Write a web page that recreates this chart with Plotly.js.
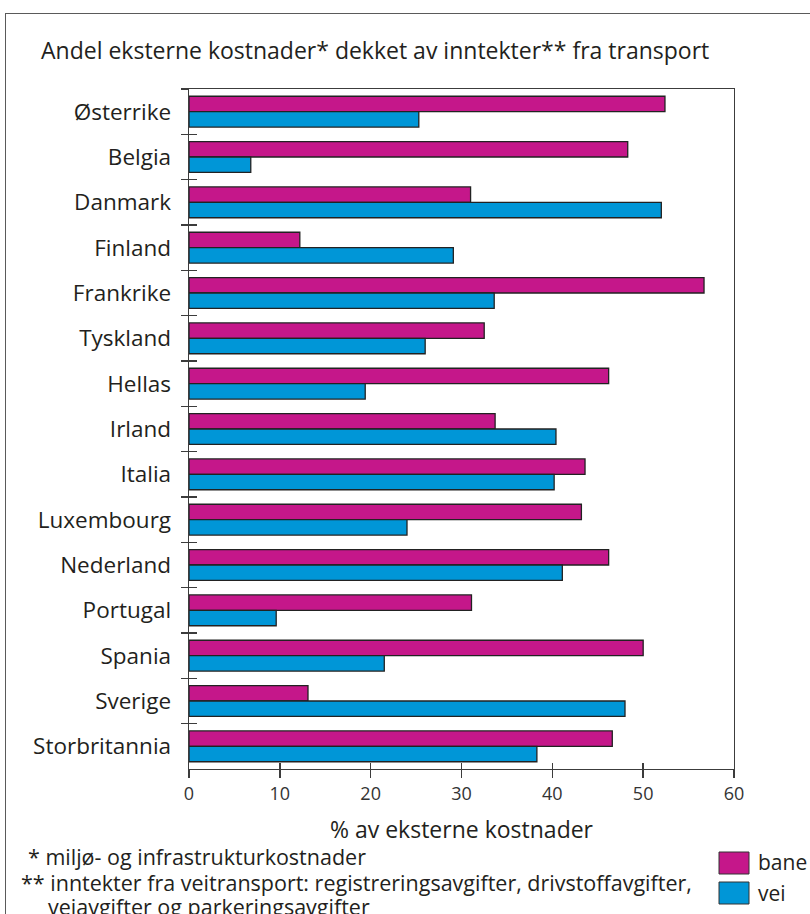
<!DOCTYPE html>
<html>
<head>
<meta charset="utf-8">
<script src="https://cdn.plot.ly/plotly-3.0.1.min.js"></script>
<style>
  html, body { margin: 0; padding: 0; background: #fff; overflow: hidden; }
  #chart { position: absolute; left: 0; top: 0; width: 810px; height: 914px; }
  #frame { position: absolute; left: 5px; top: 13px; width: 830px; height: 930px;
           border: 1.5px solid #5a5a5a; box-sizing: border-box; pointer-events: none; }
</style>
</head>
<body>
<div id="chart"></div>
<div id="frame"></div>
<script>
// Countries, top to bottom
const countries = [
  "Østerrike", "Belgia", "Danmark", "Finland", "Frankrike", "Tyskland", "Hellas",
  "Irland", "Italia", "Luxembourg", "Nederland", "Portugal", "Spania", "Sverige",
  "Storbritannia"
];
// Share of external costs covered by revenues (%), rail
const baneValues = [52.4, 48.3, 31.0, 12.2, 56.7, 32.5, 46.2, 33.7, 43.6, 43.2, 46.2, 31.1, 50.0, 13.1, 46.6];
// Share of external costs covered by revenues (%), road
const veiValues  = [25.3, 6.8, 52.0, 29.1, 33.6, 26.0, 19.4, 40.4, 40.2, 24.0, 41.1, 9.6, 21.5, 48.0, 38.3];

const seriesNames = ["bane", "vei"];
const xTickValues = [0, 10, 20, 30, 40, 50, 60];
const xTickLabels = ["0", "10", "20", "30", "40", "50", "60"];

const chartTitle = "Andel eksterne kostnader* dekket av inntekter** fra transport";
const xTitle = "% av eksterne kostnader";
const footnotes = [
  "* miljø- og infrastrukturkostnader",
  "** inntekter fra veitransport: registreringsavgifter, drivstoffavgifter,",
  "veiavgifter og parkeringsavgifter"
];

const colors = { bane: "#C5178A", vei: "#0096D7" };
const ink = "#231f20";
const axisInk = "#3c3c3c";
const FONT = "'Open Sans', 'Noto Sans', 'DejaVu Sans', sans-serif";

// Figure geometry (pixels) and helpers to turn page pixels into paper fractions
const W = 810, H = 914;
const M = { l: 189, r: 76, t: 89, b: 145 };
const PW = W - M.l - M.r, PH = H - M.t - M.b;
const px = x => (x - M.l) / PW;
const py = y => (H - M.b - y) / PH;

const barLine = { color: "#222", width: 1.3 };

const traces = [
  {
    type: "bar", orientation: "h", name: seriesNames[0],
    x: baneValues, y: countries,
    marker: { color: colors.bane, line: barLine },
    hoverinfo: "x+y+name", showlegend: false
  },
  {
    type: "bar", orientation: "h", name: seriesNames[1],
    x: veiValues, y: countries,
    marker: { color: colors.vei, line: barLine },
    hoverinfo: "x+y+name", showlegend: false
  },
  // carrier for the inward half of the crossing ticks
  {
    type: "scatter", mode: "markers", x: baneValues, y: countries,
    xaxis: "x2", yaxis: "y2", marker: { opacity: 0 },
    hoverinfo: "skip", showlegend: false
  }
];

const tickStyle = { tickwidth: 1.4, tickcolor: axisInk };

// Legend swatches and labels
const legendShapes = seriesNames.map((s, i) => ({
  type: "rect", xref: "paper", yref: "paper",
  x0: px(719), x1: px(749),
  y0: py(852 + i * 30), y1: py(874 + i * 30),
  fillcolor: colors[s], line: { color: "#333", width: 1 }
}));
const legendLabels = seriesNames.map((s, i) => ({
  text: s, xref: "paper", yref: "paper", showarrow: false,
  x: px(756), y: py(862 + i * 31), xanchor: "left", yanchor: "middle",
  font: { family: FONT, size: 21, color: ink }
}));

const footnoteAnnotations = [
  { text: footnotes[0], x: px(26), y: py(856) },
  { text: footnotes[1], x: px(19), y: py(882) },
  { text: footnotes[2], x: px(46), y: py(906) }
].map(a => Object.assign({
  xref: "paper", yref: "paper", showarrow: false, xanchor: "left", yanchor: "middle",
  font: { family: FONT, size: 21.5, color: ink }
}, a));

const layout = {
  width: W, height: H,
  margin: M,
  paper_bgcolor: "rgba(0,0,0,0)",
  plot_bgcolor: "#fff",
  font: { family: FONT, color: ink },
  showlegend: false,
  barmode: "group",
  bargap: 0.32,
  bargroupgap: 0,
  title: {
    text: chartTitle, xref: "container", yref: "container",
    x: 41 / W, xanchor: "left", y: 1 - 51 / H, yanchor: "middle",
    font: { family: FONT, size: 23, color: ink }
  },
  xaxis: Object.assign({
    range: [0, 60], tickvals: xTickValues, ticktext: xTickLabels,
    ticks: "outside", ticklen: 8, ticklabelstandoff: 0,
    showline: true, linecolor: axisInk, linewidth: 1.4, mirror: true,
    showgrid: false, zeroline: false, fixedrange: true,
    tickfont: { family: FONT, size: 18, color: "#333" },
    title: { text: xTitle, standoff: 18, font: { family: FONT, size: 23, color: ink } }
  }, tickStyle),
  yaxis: Object.assign({
    type: "category", categoryorder: "array", categoryarray: countries,
    range: [countries.length - 0.5, -0.5],
    tickson: "boundaries", ticks: "outside", ticklen: 7, ticklabelstandoff: 12,
    showline: true, linecolor: axisInk, linewidth: 1.4, mirror: true,
    showgrid: false, zeroline: false, fixedrange: true,
    tickfont: { family: FONT, size: 22.5, color: ink }
  }, tickStyle),
  xaxis2: Object.assign({
    overlaying: "x", anchor: "y2", side: "bottom",
    range: [0, 60], tickvals: xTickValues,
    ticks: "inside", ticklen: 6, showticklabels: false,
    showline: false, showgrid: false, zeroline: false, fixedrange: true
  }, tickStyle),
  yaxis2: Object.assign({
    overlaying: "y", anchor: "x2", side: "left",
    type: "category", categoryorder: "array", categoryarray: countries,
    range: [countries.length - 0.5, -0.5],
    tickson: "boundaries", ticks: "inside", ticklen: 8, showticklabels: false,
    showline: false, showgrid: false, zeroline: false, fixedrange: true
  }, tickStyle),
  shapes: legendShapes,
  annotations: footnoteAnnotations.concat(legendLabels)
};

Plotly.newPlot("chart", traces, layout, { displayModeBar: false, staticPlot: true });
</script>
</body>
</html>
